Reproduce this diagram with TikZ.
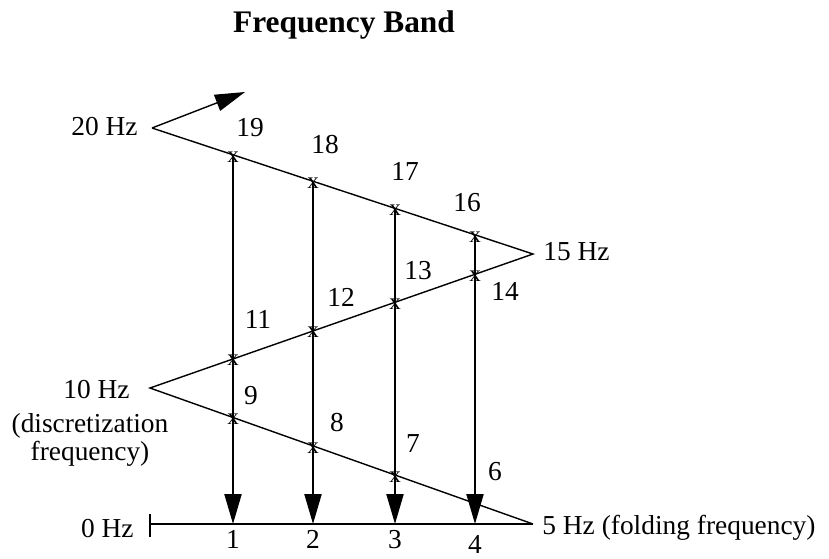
\documentclass[tikz,border=0pt]{standalone}
\usepackage{fontspec}
\setmainfont{Liberation Serif}
\usetikzlibrary{arrows.meta,positioning}

\begin{document}
\begin{tikzpicture}[
      x=0.5pt, y=-0.5pt, >={Triangle[length=15pt,width=8.5pt]},
      font=\fontsize{13.7}{12}\selectfont,
      band/.style={line width=0.7pt},
      alias/.style={->, line width=1.1pt},
      cross/.style={inner sep=0pt, yshift=-1pt, font=\fontsize{11.5}{11}\selectfont},
      lbl/.style={inner sep=0pt},
    ]
  \useasboundingbox (0,0) rectangle (829,558);

  \node[anchor=base, font=\fontsize{15.7}{18}\selectfont\bfseries] (title) at (344,32) {Frequency Band};

  % folded frequency band
  \coordinate (v20) at (152,128);
  \coordinate (v15) at (533,254);
  \coordinate (v10) at (150,388);
  \coordinate (v5)  at (533,524);
  \coordinate (z0)  at (150,524);
  \coordinate (tip) at (245,92);

  \draw[band] (v20) -- (v15) -- (v10) -- (v5);
  \draw[band] (z0) -- (v5);
  \draw[band] ([yshift=5pt]z0) -- ([yshift=-6.5pt]z0);
  \draw[->, band] (v20) -- (tip);

  % aliases folded down onto the base band
  \foreach \i/\x/\yu/\ym/\yl/\d in {1/233/154.8/358.2/417.5/3pt, 2/313/181.2/330.4/445.9/3pt,
                                    3/395/208.4/301.9/475.0/3pt, 4/475/234.8/274.1/503.4/5.5pt} {
    \coordinate (u\i) at (\x,\yu);
    \coordinate (m\i) at (\x,\ym);
    \coordinate (b\i) at (\x,524);
    \draw[alias] (u\i) -- (b\i);
    \node[cross] (xu\i) at (u\i) {x};
    \node[cross] (xm\i) at (m\i) {x};
    \ifnum\i<4 \node[cross] (xl\i) at (\x,\yl) {x}; \fi
    \node[lbl, below=\d of b\i] (n\i) {\i};
  }

  \foreach \k/\p in {19/{250,128}, 18/{325,145}, 17/{405,171}, 16/{467,203},
                     13/{418,271}, 14/{505,291}, 12/{341,297}, 11/{258,319},
                     9/{251,396}, 8/{337,423}, 7/{413,444}, 6/{495,472}}
    \node[lbl] (k\k) at (\p) {\k};

  \node[lbl, anchor=east] (f20) at (138,127) {20 Hz};
  \node[lbl, anchor=west] (f15) at (543,252) {15 Hz};
  \node[lbl, anchor=east] (f10) at (130,390) {10 Hz};
  \node[lbl, align=center] (disc) at (90,440) {(discretization\\frequency)};
  \node[lbl, anchor=east] (f0) at (134,529) {0 Hz};
  \node[lbl, anchor=west] (f5) at (542,528) {5 Hz (folding frequency)};
\end{tikzpicture}
\end{document}
